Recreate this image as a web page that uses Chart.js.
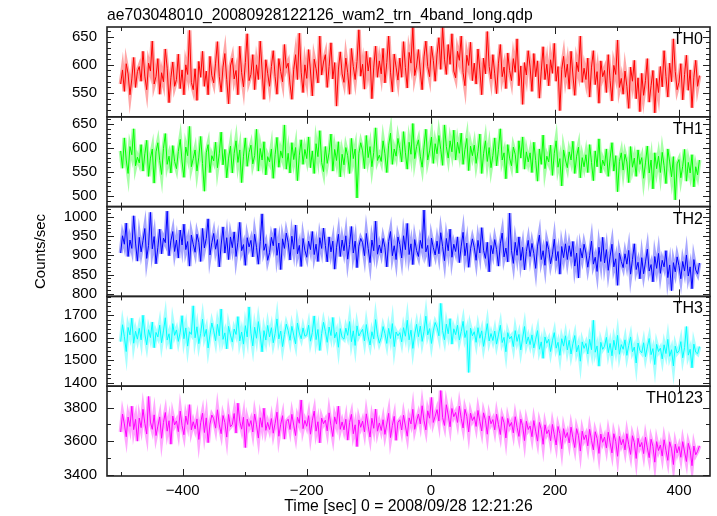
<!DOCTYPE html>
<html>
<head>
<title>WAM light curve</title>
<script src="https://cdn.jsdelivr.net/npm/chart.js"></script>
<style>
  body { margin: 0; background: #fff; }
  #wrap { width: 717px; height: 516px; }
</style>
</head>
<body>
<div id="wrap"><canvas id="lc" width="717" height="516"></canvas></div>
<script>
// bin times [sec] (0 = 2008/09/28 12:21:26), 3 s bins
const time = [
  -500,-497,-494,-491,-488,-485,-482,-479,-476,-473,
  -470,-467,-464,-461,-458,-455,-452,-449,-446,-443,
  -440,-437,-434,-431,-428,-425,-422,-419,-416,-413,
  -410,-407,-404,-401,-398,-395,-392,-389,-386,-383,
  -380,-377,-374,-371,-368,-365,-362,-359,-356,-353,
  -350,-347,-344,-341,-338,-335,-332,-329,-326,-323,
  -320,-317,-314,-311,-308,-305,-302,-299,-296,-293,
  -290,-287,-284,-281,-278,-275,-272,-269,-266,-263,
  -260,-257,-254,-251,-248,-245,-242,-239,-236,-233,
  -230,-227,-224,-221,-218,-215,-212,-209,-206,-203,
  -200,-197,-194,-191,-188,-185,-182,-179,-176,-173,
  -170,-167,-164,-161,-158,-155,-152,-149,-146,-143,
  -140,-137,-134,-131,-128,-125,-122,-119,-116,-113,
  -110,-107,-104,-101,-98,-95,-92,-89,-86,-83,
  -80,-77,-74,-71,-68,-65,-62,-59,-56,-53,
  -50,-47,-44,-41,-38,-35,-32,-29,-26,-23,
  -20,-17,-14,-11,-8,-5,-2,1,4,7,
  10,13,16,19,22,25,28,31,34,37,
  40,43,46,49,52,55,58,61,64,67,
  70,73,76,79,82,85,88,91,94,97,
  100,103,106,109,112,115,118,121,124,127,
  130,133,136,139,142,145,148,151,154,157,
  160,163,166,169,172,175,178,181,184,187,
  190,193,196,199,202,205,208,211,214,217,
  220,223,226,229,232,235,238,241,244,247,
  250,253,256,259,262,265,268,271,274,277,
  280,283,286,289,292,295,298,301,304,307,
  310,313,316,319,322,325,328,331,334,337,
  340,343,346,349,352,355,358,361,364,367,
  370,373,376,379,382,385,388,391,394,397,
  400,403,406,409,412,415,418,421,424,427,
  430,433
];

const th0 = [
  566,591,553,602,584,547,575,613,560,588,
  597,571,624,580,556,603,589,642,566,579,
  611,548,586,570,628,594,533,577,605,562,
  574,619,558,591,547,600,583,661,569,556,
  593,537,606,578,624,562,589,547,615,581,
  568,603,641,579,552,596,620,574,531,598,
  612,575,590,547,633,586,561,604,655,572,
  583,618,556,600,574,642,591,539,609,585,
  562,597,625,579,548,611,588,570,636,594,
  603,566,539,592,618,574,656,587,551,600,
  576,627,589,545,610,593,568,651,582,605,
  618,560,597,639,575,604,527,591,623,584,
  569,612,586,548,629,597,574,606,662,580,
  601,557,624,589,613,540,596,633,578,607,
  584,629,568,604,651,587,552,619,596,573,
  612,578,641,595,559,622,603,667,581,598,
  627,589,556,614,642,597,579,633,608,571,
  619,648,592,667,610,583,636,601,655,589,
  577,624,608,651,586,563,617,599,640,572,
  603,566,628,591,547,612,584,659,597,575,
  618,584,549,603,636,579,596,558,621,590,
  572,611,587,646,563,598,530,604,582,625,
  596,553,620,579,607,541,589,632,574,601,
  563,609,585,638,571,597,519,592,615,578,
  601,557,624,582,546,605,588,651,569,594,
  574,612,543,596,625,565,588,532,607,579,
  590,551,618,572,536,599,583,644,560,576,
  548,589,562,523,596,571,608,540,577,517,
  585,546,572,611,534,563,590,515,576,551,
  597,561,625,579,543,603,570,646,588,556,
  569,602,538,583,617,555,591,524,578,608,
  562,581
];

const th1 = [
  594,558,621,575,547,603,586,640,563,581,
  569,607,552,588,616,541,579,598,527,592,
  611,574,545,599,630,566,583,548,605,572,
  557,593,618,571,539,602,584,645,561,578,
  596,552,581,624,568,510,590,607,549,584,
  573,612,559,588,633,565,597,538,579,604,
  548,589,615,570,596,528,583,621,562,591,
  606,567,584,639,552,599,575,613,544,582,
  571,598,537,586,622,560,594,579,648,556,
  589,548,611,576,601,532,585,617,566,597,
  578,623,559,594,547,609,582,636,570,551,
  603,568,590,629,552,597,574,613,540,587,
  565,601,584,547,620,578,598,496,589,611,
  594,557,626,580,603,561,591,642,574,585,
  572,615,588,549,606,631,566,598,583,620,
  599,571,634,590,556,612,587,651,578,603,
  617,583,560,602,639,575,594,623,568,609,
  588,626,597,564,648,603,579,615,592,637,
  575,612,589,631,566,597,620,553,604,584,
  606,568,593,629,547,588,615,572,601,559,
  584,621,563,597,640,575,590,536,607,579,
  563,602,587,548,615,579,623,556,592,571,
  590,549,612,574,531,598,566,627,557,583,
  571,606,543,589,615,560,578,521,596,575,
  559,592,575,614,547,583,602,538,580,561,
  586,549,607,570,532,594,561,619,548,575,
  563,598,541,579,611,552,584,509,572,590,
  554,587,571,528,603,560,579,541,596,566,
  580,537,569,604,548,575,515,590,557,583,
  549,591,563,526,598,571,540,582,492,567,
  576,538,562,597,531,570,548,586,519,561,
  544,575
];

const th2 = [
  906,951,929,984,897,940,918,1003,932,885,
  947,909,938,970,892,926,1012,917,949,878,
  921,968,904,945,933,1015,899,938,962,910,
  940,893,966,927,981,915,936,872,953,929,
  908,955,934,884,970,919,944,995,901,933,
  957,916,941,870,927,974,906,946,889,948,
  920,961,897,934,986,912,928,874,946,922,
  939,896,955,921,877,936,1008,913,930,887,
  907,947,925,970,900,932,863,943,918,958,
  934,888,950,916,979,904,926,871,944,913,
  895,937,915,962,902,929,884,946,918,971,
  926,883,948,909,937,864,921,955,897,940,
  912,951,890,928,975,906,937,868,924,944,
  933,899,957,918,881,940,912,989,903,927,
  906,944,921,870,936,962,899,925,889,948,
  928,893,951,915,983,902,930,876,941,913,
  897,939,918,1018,909,926,871,945,920,901,
  937,904,959,923,886,944,912,968,895,929,
  910,948,881,924,960,899,932,869,917,943,
  921,887,939,906,972,913,892,934,857,926,
  904,941,915,872,930,958,896,919,883,1010,
  913,879,934,900,948,887,921,862,910,939,
  897,931,905,866,924,953,889,912,874,936,
  915,878,903,942,886,910,851,923,894,930,
  889,925,897,936,872,906,841,918,893,929,
  906,869,900,937,877,895,858,921,884,947,
  880,915,861,898,929,870,891,822,906,884,
  868,904,877,913,851,889,930,863,882,839,
  894,852,883,916,859,876,831,897,866,905,
  853,887,870,912,842,875,808,881,857,896,
  873,839,884,859,901,846,870,813,889,862,
  851,880
];

const th3 = [
  1582,1657,1604,1538,1645,1612,1686,1575,1628,1593,
  1641,1590,1699,1616,1568,1635,1600,1669,1555,1623,
  1603,1655,1577,1630,1688,1589,1617,1549,1662,1610,
  1634,1583,1624,1697,1595,1643,1562,1626,1614,1741,
  1599,1648,1573,1619,1682,1605,1637,1554,1612,1665,
  1630,1586,1659,1608,1727,1592,1621,1550,1650,1611,
  1580,1638,1614,1693,1585,1625,1571,1653,1603,1736,
  1620,1563,1646,1597,1671,1612,1537,1631,1589,1654,
  1603,1644,1577,1618,1683,1594,1629,1560,1614,1660,
  1632,1588,1650,1611,1572,1665,1620,1595,1643,1606,
  1611,1655,1584,1623,1696,1591,1636,1543,1618,1668,
  1628,1579,1647,1609,1689,1598,1624,1557,1640,1601,
  1593,1642,1610,1671,1582,1630,1565,1652,1607,1623,
  1637,1585,1658,1603,1567,1626,1594,1680,1612,1575,
  1600,1649,1618,1574,1641,1596,1662,1560,1625,1608,
  1622,1581,1644,1606,1677,1590,1633,1552,1616,1659,
  1604,1651,1583,1628,1695,1612,1640,1574,1630,1667,
  1646,1608,1752,1631,1590,1660,1617,1684,1571,1639,
  1613,1655,1589,1627,1672,1600,1631,1445,1642,1608,
  1626,1579,1644,1597,1630,1561,1608,1662,1585,1618,
  1587,1629,1571,1612,1655,1578,1601,1537,1622,1594,
  1606,1560,1631,1583,1614,1545,1598,1649,1572,1603,
  1569,1612,1554,1593,1631,1548,1581,1508,1603,1575,
  1593,1538,1586,1622,1553,1579,1521,1595,1562,1608,
  1545,1588,1527,1573,1609,1536,1566,1495,1581,1552,
  1574,1527,1592,1546,1677,1535,1563,1473,1579,1548,
  1561,1601,1533,1574,1519,1588,1545,1610,1526,1569,
  1548,1590,1521,1565,1603,1537,1558,1487,1576,1543,
  1532,1577,1515,1559,1596,1524,1551,1480,1570,1538,
  1553,1505,1568,1529,1592,1517,1546,1474,1562,1531,
  1541,1582,1510,1556,1649,1522,1548,1466,1571,1535,
  1528,1560
];

const th0123 = [
  3655,3762,3703,3627,3744,3688,3808,3669,3730,3601,
  3738,3681,3790,3707,3643,3866,3714,3671,3757,3634,
  3690,3745,3618,3712,3771,3660,3722,3583,3750,3697,
  3721,3657,3779,3694,3639,3750,3700,3817,3668,3716,
  3674,3733,3611,3710,3767,3652,3739,3592,3702,3756,
  3734,3678,3787,3697,3645,3753,3712,3625,3759,3686,
  3700,3765,3649,3826,3719,3672,3743,3563,3731,3688,
  3723,3655,3762,3698,3619,3740,3683,3796,3665,3712,
  3670,3735,3648,3707,3773,3630,3701,3752,3613,3718,
  3731,3670,3760,3696,3634,3743,3707,3845,3675,3724,
  3689,3752,3642,3725,3779,3660,3716,3591,3738,3704,
  3726,3662,3769,3693,3628,3745,3702,3808,3671,3715,
  3668,3731,3607,3712,3760,3645,3698,3569,3727,3683,
  3720,3656,3763,3690,3625,3737,3677,3791,3660,3709,
  3664,3728,3641,3702,3766,3622,3695,3748,3606,3713,
  3728,3667,3755,3691,3630,3739,3703,3790,3671,3720,
  3762,3703,3811,3724,3668,3781,3737,3860,3712,3749,
  3788,3720,3901,3741,3694,3817,3756,3686,3795,3746,
  3771,3712,3809,3735,3679,3790,3748,3655,3767,3723,
  3746,3688,3783,3718,3661,3769,3725,3642,3751,3704,
  3729,3668,3761,3699,3640,3746,3710,3620,3736,3688,
  3712,3650,3746,3683,3629,3732,3692,3604,3719,3670,
  3691,3627,3723,3660,3601,3712,3669,3582,3698,3645,
  3668,3603,3700,3639,3578,3688,3646,3556,3675,3622,
  3652,3590,3684,3621,3563,3675,3633,3542,3660,3610,
  3638,3573,3671,3606,3549,3657,3617,3528,3643,3594,
  3625,3560,3654,3591,3531,3645,3600,3511,3629,3579,
  3612,3549,3645,3580,3522,3633,3592,3498,3618,3566,
  3593,3527,3624,3561,3503,3612,3570,3476,3598,3545,
  3578,3512,3609,3546,3487,3597,3555,3462,3583,3531,
  3569,3505,3598,3537,3480,3588,3546,3455,3572,3520,
  3541,3573
];

const panelNames = ['TH0', 'TH1', 'TH2', 'TH3', 'TH0123'];
const panelSeries = [th0, th1, th2, th3, th0123];
const yTickLabels = [
  [550, 600, 650],
  [500, 550, 600, 650],
  [800, 850, 900, 950, 1000],
  [1400, 1500, 1600, 1700],
  [3400, 3600, 3800]
];
const xTickLabels = [-400, -200, 0, 200, 400];

// axis ranges / styling
const yMin = [508, 478, 793, 1384, 3394];
const yMax = [667, 665, 1027, 1783, 3927];
const yMinorStep = [10, 10, 10, 20, 100];
const yMajorStep = [50, 50, 50, 100, 200];
const lineColors = ['#ff0000', '#00ff00', '#0000ff', '#00ffff', '#ff00ff'];
const haloColors = ['rgba(255,0,0,0.35)', 'rgba(0,255,0,0.35)', 'rgba(0,0,255,0.35)',
                    'rgba(0,255,255,0.35)', 'rgba(255,0,255,0.35)'];

Chart.defaults.font.family = "'Liberation Sans', Arial, sans-serif";
Chart.defaults.font.size = 15;
Chart.defaults.color = '#000';

const pts = arr => arr.map((v, i) => ({x: time[i], y: v}));

const datasets = [];
panelSeries.forEach((arr, i) => {
  // thin solid line on top
  datasets.push({
    data: pts(arr), yAxisID: 'y' + i, borderColor: lineColors[i],
    borderWidth: 1, pointRadius: 0, tension: 0, order: 0
  });
  // lighter, wider band underneath (error-bar look)
  datasets.push({
    data: pts(arr), yAxisID: 'y' + i, borderColor: haloColors[i],
    borderWidth: 4, pointRadius: 0, tension: 0, order: 1
  });
});

const scales = {
  x: {
    type: 'linear', min: -522, max: 450,
    grid: { display: false, drawTicks: false }, border: { display: false },
    afterBuildTicks: s => { s.ticks = xTickLabels.map(v => ({value: v})); },
    afterFit: s => { s.height = 40; },
    ticks: {
      padding: 6, autoSkip: false, maxRotation: 0,
      callback: v => (v < 0 ? '\u2212' + Math.abs(v) : String(v))
    },
    title: {
      display: true, text: 'Time [sec] 0 = 2008/09/28 12:21:26',
      font: { size: 15.8 }, padding: { top: 0, bottom: 0 }
    }
  }
};
// last defined axis ends up at the top of the stack
for (let i = panelNames.length - 1; i >= 0; i--) {
  scales['y' + i] = {
    type: 'linear', position: 'left', stack: 'panels', stackWeight: 1,
    min: yMin[i], max: yMax[i],
    grid: { display: false, drawTicks: false }, border: { display: false },
    afterBuildTicks: s => { s.ticks = yTickLabels[i].map(v => ({value: v})); },
    afterFit: s => { s.width = 107; },
    ticks: { padding: 10, autoSkip: false, callback: v => String(v) },
    title: { display: i === 2, text: 'Counts/sec', padding: { top: 32, bottom: 0 } }
  };
}

function seg(ctx, x1, y1, x2, y2) {
  ctx.beginPath(); ctx.moveTo(x1, y1); ctx.lineTo(x2, y2); ctx.stroke();
}

const qdpFrame = {
  id: 'qdpFrame',
  afterDraw(chart) {
    const ctx = chart.ctx, area = chart.chartArea, xs = chart.scales.x;
    ctx.save();
    ctx.strokeStyle = '#222';
    ctx.fillStyle = '#000';
    panelNames.forEach((name, i) => {
      const s = chart.scales['y' + i];
      const top = s.top, bot = s.bottom;
      // y ticks, both sides
      ctx.lineWidth = 1;
      const first = Math.ceil(yMin[i] / yMinorStep[i]) * yMinorStep[i];
      for (let v = first; v <= yMax[i]; v += yMinorStep[i]) {
        const y = Math.round(s.getPixelForValue(v)) + 0.5;
        const len = v % yMajorStep[i] === 0 ? 7 : 4;
        seg(ctx, area.left, y, area.left + len, y);
        seg(ctx, area.right, y, area.right - len, y);
      }
      // x ticks at top and bottom of each panel
      for (let v = -500; v <= 400; v += 100) {
        const x = Math.round(xs.getPixelForValue(v)) + 0.5;
        const len = v % 200 === 0 ? 7 : 4;
        seg(ctx, x, top, x, top + len);
        seg(ctx, x, bot, x, bot - len);
      }
      ctx.lineWidth = 1.6;
      ctx.strokeRect(area.left, top, area.right - area.left, bot - top);
      ctx.font = "16px 'Liberation Sans', Arial, sans-serif";
      ctx.textAlign = 'right';
      ctx.textBaseline = 'alphabetic';
      ctx.fillText(name, area.right - 7, top + 17);
    });
    // plot title
    ctx.font = "15.7px 'Liberation Sans', Arial, sans-serif";
    ctx.textAlign = 'left';
    ctx.fillText('ae703048010_20080928122126_wam2_trn_4band_long.qdp', area.left, 20);
    ctx.restore();
  }
};

new Chart(document.getElementById('lc'), {
  type: 'line',
  data: { datasets: datasets },
  options: {
    responsive: false,
    animation: false,
    layout: { padding: { top: 27, right: 7, left: 0, bottom: 0 } },
    plugins: { legend: { display: false }, tooltip: { enabled: false } },
    scales: scales
  },
  plugins: [qdpFrame]
});
</script>
</body>
</html>
